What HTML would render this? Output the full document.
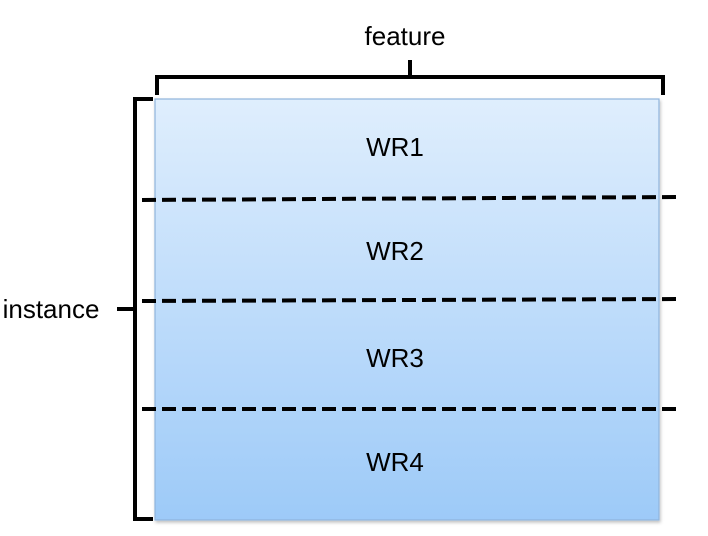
<!DOCTYPE html>
<html><head><meta charset="utf-8"><style>
html,body{margin:0;padding:0;background:#fff;width:708px;height:536px;overflow:hidden}
</style></head><body>
<svg width="708" height="536" viewBox="0 0 708 536" xmlns="http://www.w3.org/2000/svg">
<defs>
<linearGradient id="g" x1="0" y1="0" x2="0" y2="1">
<stop offset="0" stop-color="#dfeefd"/>
<stop offset="1" stop-color="#9dcaf8"/>
</linearGradient>
<filter id="s" x="-5%" y="-5%" width="110%" height="110%"><feDropShadow dx="1" dy="2" stdDeviation="1.5" flood-color="#000" flood-opacity="0.25"/></filter>
</defs>
<rect x="155" y="99" width="504" height="421" fill="url(#g)" stroke="#8fb4dc" stroke-width="1.2" filter="url(#s)"/>
<g fill="none" stroke="#000" stroke-width="4">
<path d="M157 95 V77 H663 V95"/>
<path d="M410 77 V60"/>
<path d="M153 99 H135 V519 H153"/>
<path d="M135 309 H117"/>
</g>
<g stroke="#000" stroke-width="4" stroke-dasharray="14 6">
<line x1="142" y1="200" x2="679" y2="197"/>
<line x1="142" y1="301" x2="679" y2="299"/>
<line x1="142" y1="409" x2="679" y2="409"/>
</g>
<g font-family="Liberation Sans, sans-serif" font-size="26" fill="#000" text-anchor="middle">
<text x="405" y="45">feature</text>
<text x="395" y="156">WR1</text>
<text x="395" y="260">WR2</text>
<text x="395" y="367">WR3</text>
<text x="395" y="471">WR4</text>
<text x="51" y="318">instance</text>
</g>
</svg>
</body></html>
